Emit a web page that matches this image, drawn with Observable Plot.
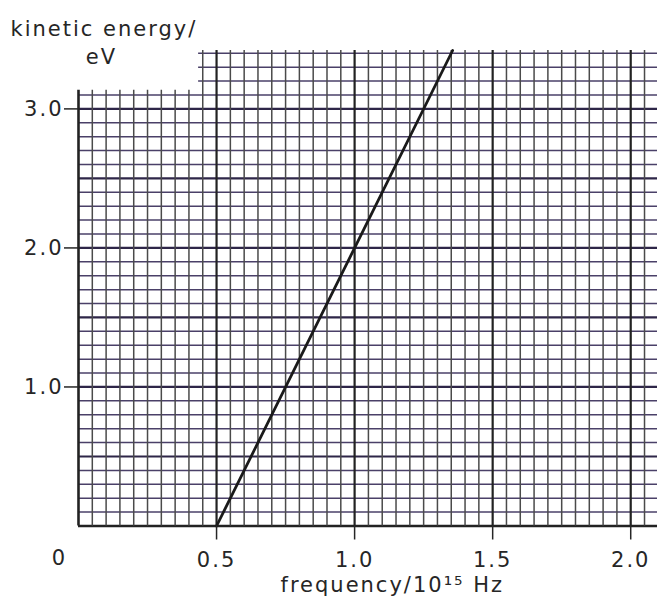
<!DOCTYPE html>
<html><head><meta charset="utf-8">
<script src="https://cdn.jsdelivr.net/npm/d3@7"></script>
<script src="https://cdn.jsdelivr.net/npm/@observablehq/plot@0.6"></script>
<style>
body{margin:0;background:#fff}
#chart svg text{letter-spacing:2px}
</style></head><body><div id="chart"></div>
<script>
// Data
const xTicks = [0.5, 1.0, 1.5, 2.0];
const yTicks = [1.0, 2.0, 3.0];
const lineFreq = [0.5, 1.355];
const lineKE = [0, 3.42];
const xLabel = "frequency/10¹⁵ Hz";
const yLabelLines = ["kinetic energy/", "eV"];
const originLabel = ["0"];

const xMax = 2.097, yMax = 3.42;
const vLines = d3.range(42).map(i => +(i * 0.05).toFixed(2));
const hLines = d3.range(35).map(i => +(i * 0.1).toFixed(1));
const isBold = v => Math.abs(v * 2 - Math.round(v * 2)) < 1e-6;
const lineData = lineFreq.map((f, i) => ({f, e: lineKE[i]}));
const ink = "#262626";

const chart = Plot.plot({
  width: 657, height: 602,
  marginLeft: 78, marginRight: 0, marginTop: 50, marginBottom: 76.5,
  x: {domain: [0, xMax], label: null},
  y: {domain: [0, yMax], label: null},
  style: {fontFamily: "DejaVu Sans", fontSize: "21px", color: ink, background: "#fff"},
  marks: [
    Plot.ruleY(hLines, {
      y: d => d, x1: d => d > 3.15 ? 0.435 : 0, x2: xMax,
      stroke: d => d === 0 ? "#222" : (isBold(d) ? "#2e2648" : "#4a4068"),
      strokeWidth: d => d === 0 ? 2.6 : (isBold(d) ? 2.2 : 1.5)
    }),
    Plot.ruleX(vLines, {
      x: d => d, y1: 0, y2: d => d < 0.42 ? 3.135 : 3.42,
      stroke: d => isBold(d) ? "#222" : "#4a4a4a",
      strokeWidth: d => d === 0 ? 2.6 : (isBold(d) ? 2.2 : 1.5)
    }),
    Plot.line(lineData, {x: "f", y: "e", stroke: "#1a1a1a", strokeWidth: 2.8}),
    Plot.axisX({ticks: xTicks, tickSize: 14, tickPadding: 12, tickFormat: d3.format(".1f"),
      stroke: ink, strokeWidth: 1.5, fill: ink, fontSize: 21, label: null}),
    Plot.axisY({ticks: yTicks, tickSize: 14, tickPadding: 1, tickFormat: d3.format(".1f"),
      stroke: ink, strokeWidth: 1.5, fill: ink, fontSize: 21, label: null}),
    Plot.text(originLabel, {text: d => d, frameAnchor: "bottom-left", lineAnchor: "middle",
      textAnchor: "middle", dx: -19, dy: 32, fontSize: 21, fill: ink}),
    Plot.text([yLabelLines[0]], {text: d => d, frameAnchor: "top-left", lineAnchor: "middle",
      textAnchor: "start", dx: -68, dy: -21.7, fontSize: 21, fill: ink}),
    Plot.text([yLabelLines[1]], {text: d => d, frameAnchor: "top-left", lineAnchor: "middle",
      textAnchor: "middle", dx: 23, dy: 6.6, fontSize: 21, fill: ink}),
    Plot.text([xLabel], {text: d => d, frameAnchor: "bottom-left", lineAnchor: "middle",
      textAnchor: "start", dx: 202, dy: 59.5, fontSize: 21, fill: ink})
  ]
});
document.getElementById("chart").appendChild(chart);
</script></body></html>
